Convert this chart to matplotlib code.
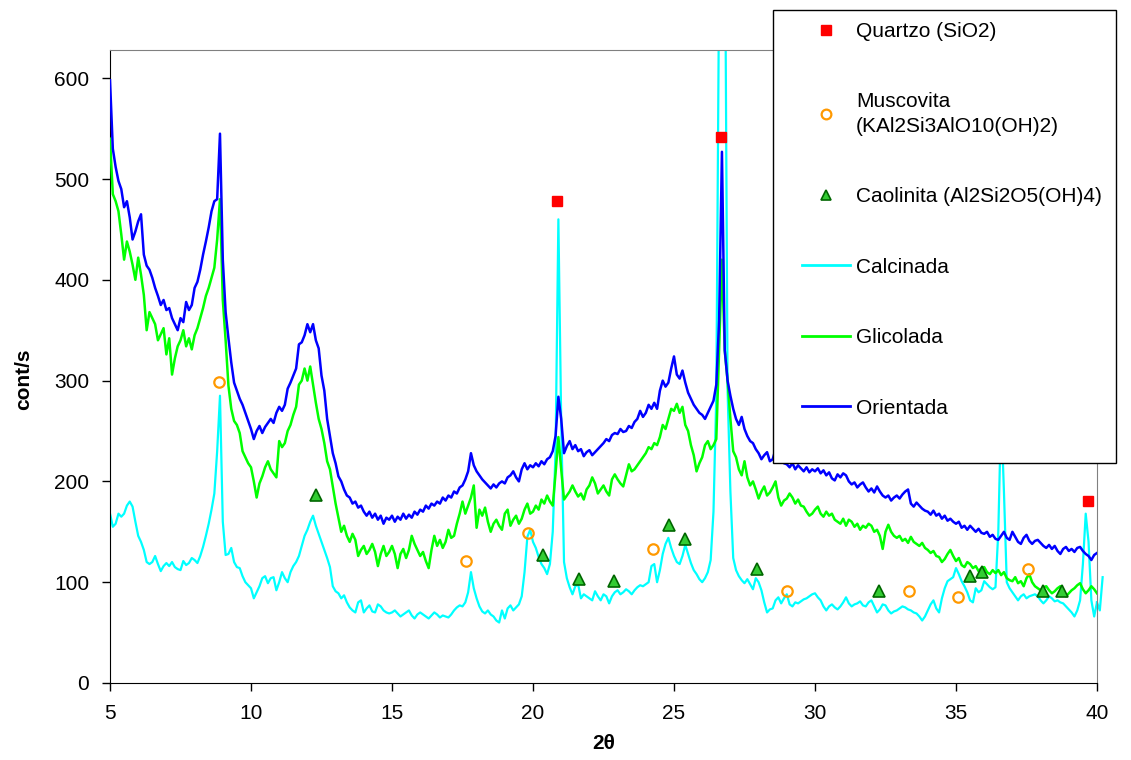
import numpy as np
import matplotlib.pyplot as plt
from matplotlib.lines import Line2D
from matplotlib.patches import Rectangle

plt.rcParams['font.family'] = ['Liberation Sans', 'DejaVu Sans']

# 2-theta grid of the scans (0.1 deg)
two_theta = np.round(np.arange(5.0, 40.05, 0.1), 1)

# Orientada (blue), one row per degree
orientada = [
    598, 530, 512, 498, 490, 472, 478, 462, 440, 448,   # 5
    458, 465, 425, 414, 410, 402, 392, 384, 375, 380,   # 6
    370, 372, 362, 356, 350, 362, 358, 378, 370, 375,   # 7
    392, 398, 410, 425, 438, 452, 468, 478, 480, 545,   # 8
    420, 368, 342, 318, 298, 290, 282, 276, 268, 260,   # 9
    252, 242, 250, 255, 248, 254, 258, 262, 258, 268,   # 10
    274, 270, 276, 292, 298, 305, 312, 336, 338, 345,   # 11
    356, 348, 356, 340, 332, 305, 290, 262, 245, 228,   # 12
    218, 205, 200, 192, 186, 184, 178, 180, 174, 176,   # 13
    170, 166, 170, 164, 168, 162, 166, 158, 164, 162,   # 14
    166, 160, 165, 162, 168, 163, 167, 164, 170, 167,   # 15
    172, 170, 176, 173, 178, 176, 180, 178, 184, 181,   # 16
    186, 184, 190, 188, 194, 196, 202, 210, 228, 216,   # 17
    210, 206, 202, 199, 196, 193, 197, 194, 198, 200,   # 18
    198, 204, 206, 210, 204, 200, 212, 218, 212, 216,   # 19
    214, 218, 215, 220, 217, 222, 224, 230, 245, 284,   # 20
    262, 228, 235, 240, 232, 236, 230, 232, 225, 229,   # 21
    231, 226, 229, 232, 235, 238, 242, 240, 246, 248,   # 22
    247, 252, 249, 250, 255, 253, 259, 262, 270, 264,   # 23
    268, 276, 272, 278, 272, 290, 300, 294, 298, 312,   # 24
    324, 306, 302, 310, 298, 288, 282, 276, 272, 268,   # 25
    266, 262, 268, 274, 280, 296, 360, 527, 330, 300,   # 26
    285, 272, 262, 256, 264, 252, 245, 240, 238, 232,   # 27
    228, 222, 226, 229, 220, 222, 232, 226, 220, 218,   # 28
    217, 214, 218, 212, 216, 213, 210, 214, 209, 212,   # 29
    210, 213, 208, 211, 206, 209, 203, 201, 207, 204,   # 30
    208, 206, 200, 197, 199, 194, 197, 199, 194, 190,   # 31
    193, 189, 195, 190, 186, 184, 186, 181, 184, 186,   # 32
    183, 187, 190, 192, 178, 175, 179, 176, 173, 171,   # 33
    170, 167, 171, 166, 168, 163, 166, 161, 163, 160,   # 34
    158, 160, 154, 156, 152, 156, 153, 150, 153, 149,   # 35
    148, 150, 145, 147, 143, 142, 146, 150, 144, 142,   # 36
    150, 145, 140, 138, 144, 147, 141, 138, 141, 142,   # 37
    139, 136, 134, 137, 133, 136, 131, 128, 133, 135,   # 38
    131, 133, 130, 134, 135, 131, 128, 126, 122, 127,   # 39
    129,                                                # 40
]

# Glicolada (green)
glicolada = [
    540, 485, 478, 468, 445, 420, 438, 428, 415, 400,   # 5
    422, 405, 385, 350, 368, 362, 356, 340, 346, 352,   # 6
    326, 342, 306, 322, 334, 340, 350, 334, 342, 331,   # 7
    345, 352, 362, 372, 384, 392, 402, 412, 440, 480,   # 8
    380, 340, 295, 272, 260, 256, 248, 230, 224, 218,   # 9
    214, 200, 184, 198, 205, 214, 220, 212, 208, 204,   # 10
    240, 234, 238, 250, 256, 266, 274, 296, 300, 312,   # 11
    300, 314, 296, 278, 262, 252, 238, 220, 212, 195,   # 12
    178, 164, 150, 156, 146, 140, 148, 142, 126, 132,   # 13
    136, 128, 132, 138, 130, 116, 128, 136, 126, 130,   # 14
    136, 128, 114, 128, 133, 124, 132, 146, 138, 132,   # 15
    126, 130, 121, 114, 132, 146, 136, 142, 134, 140,   # 16
    152, 144, 146, 158, 168, 180, 168, 176, 184, 196,   # 17
    154, 172, 166, 174, 160, 150, 158, 162, 156, 152,   # 18
    168, 172, 156, 162, 166, 158, 163, 172, 178, 168,   # 19
    170, 176, 172, 182, 178, 186, 180, 176, 208, 244,   # 20
    212, 182, 186, 190, 196, 190, 185, 188, 182, 192,   # 21
    196, 204, 198, 188, 192, 196, 190, 186, 202, 207,   # 22
    202, 198, 195, 206, 217, 210, 212, 216, 220, 224,   # 23
    228, 234, 232, 238, 236, 244, 256, 252, 262, 272,   # 24
    270, 277, 268, 274, 256, 250, 236, 226, 210, 218,   # 25
    224, 236, 240, 232, 236, 242, 330, 420, 330, 300,   # 26
    262, 230, 224, 212, 206, 220, 204, 196, 200, 192,   # 27
    183, 190, 195, 186, 189, 194, 200, 184, 176, 181,   # 28
    183, 188, 184, 178, 182, 176, 175, 170, 166, 168,   # 29
    172, 175, 168, 165, 170, 166, 168, 162, 160, 158,   # 30
    163, 156, 162, 160, 155, 158, 152, 156, 154, 158,   # 31
    156, 150, 152, 146, 133, 150, 157, 150, 146, 144,   # 32
    146, 141, 143, 139, 145, 140, 138, 136, 139, 134,   # 33
    132, 129, 131, 126, 125, 120, 123, 128, 132, 126,   # 34
    121, 124, 117, 115, 120, 118, 114, 116, 111, 114,   # 35
    115, 110, 108, 112, 109, 112, 107, 110, 104, 102,   # 36
    101, 105, 99, 101, 96, 104, 108, 100, 96, 94,       # 37
    92, 95, 96, 92, 89, 91, 94, 96, 90, 86,             # 38
    89, 92, 94, 97, 99, 93, 89, 92, 96, 93,             # 39
    89,                                                 # 40
]

# Calcinada (cyan), same grid plus a short tail past 40
calcinada = [
    168, 155, 158, 168, 165, 168, 176, 180, 175, 160,   # 5
    146, 140, 132, 120, 118, 120, 126, 118, 111, 116,   # 6
    119, 116, 120, 115, 113, 112, 121, 117, 119, 124,   # 7
    122, 119, 126, 135, 146, 158, 172, 188, 230, 285,   # 8
    160, 127, 128, 134, 120, 115, 114, 106, 100, 97,    # 9
    94, 84, 90, 96, 104, 106, 99, 104, 105, 92,         # 10
    100, 110, 104, 100, 110, 116, 120, 126, 136, 146,   # 11
    152, 160, 166, 156, 148, 140, 132, 124, 115, 96,    # 12
    91, 89, 84, 87, 80, 75, 72, 70, 80, 82,             # 13
    70, 74, 77, 71, 70, 78, 76, 72, 70, 69,             # 14
    70, 72, 69, 66, 68, 70, 72, 67, 64, 68,             # 15
    70, 68, 66, 64, 67, 70, 68, 65, 67, 66,             # 16
    65, 68, 72, 75, 77, 76, 80, 90, 110, 94,            # 17
    84, 76, 71, 69, 72, 68, 66, 62, 60, 72,             # 18
    64, 74, 77, 72, 75, 78, 86, 110, 145, 152,          # 19
    140, 134, 125, 118, 114, 108, 118, 150, 230, 460,   # 20
    260, 120, 104, 95, 88, 96, 98, 84, 88, 86,          # 21
    84, 82, 91, 86, 82, 88, 86, 79, 86, 90,             # 22
    92, 88, 90, 93, 91, 88, 92, 95, 97, 96,             # 23
    98, 100, 116, 118, 100, 112, 128, 138, 144, 134,    # 24
    126, 120, 118, 126, 137, 128, 119, 112, 108, 103,   # 25
    100, 104, 110, 122, 170, 285, 700, 1200, 800, 290,  # 26
    190, 124, 112, 106, 102, 99, 103, 98, 93, 104,      # 27
    100, 92, 80, 70, 73, 74, 82, 85, 79, 84,            # 28
    88, 78, 76, 80, 79, 81, 83, 84, 86, 88,             # 29
    89, 85, 82, 76, 72, 76, 78, 75, 73, 76,             # 30
    80, 85, 79, 76, 78, 79, 81, 77, 76, 80,             # 31
    82, 76, 70, 73, 78, 77, 72, 69, 71, 72,             # 32
    74, 76, 75, 73, 72, 70, 69, 66, 62, 66,             # 33
    72, 78, 82, 74, 70, 84, 94, 101, 103, 105,          # 34
    114, 108, 101, 96, 90, 82, 80, 94, 90, 92,          # 35
    101, 98, 95, 93, 95, 150, 270, 190, 100, 94,        # 36
    90, 86, 82, 86, 88, 84, 86, 87, 88, 86,             # 37
    82, 79, 82, 86, 84, 81, 82, 80, 79, 76,             # 38
    73, 70, 66, 72, 82, 118, 168, 140, 82, 66,          # 39
    80,                                                 # 40
]
tail_theta = [40.0, 40.1, 40.2]
tail_calcinada = [80, 72, 105]

# phase markers
quartzo_x = [20.84, 26.67, 39.69]
quartzo_y = [478, 542, 181]
muscovita_x = [8.86, 17.63, 19.83, 24.25, 29.02, 33.35, 35.07, 37.56]
muscovita_y = [299, 121, 149, 133, 91, 91, 85, 113]
caolinita_x = [12.29, 20.34, 21.63, 22.89, 24.81, 25.40, 27.96, 32.28, 35.51, 35.92, 38.07, 38.77]
caolinita_y = [187, 127, 103, 101, 157, 143, 113, 91, 106, 110, 91, 91]

fig = plt.figure(figsize=(11.31, 7.6), dpi=100)
ax = fig.add_axes([110 / 1131, 77 / 760, 987 / 1131, 633 / 760])

ax.plot(two_theta, calcinada, color='#00FFFF', lw=1.6, zorder=2)
ax.plot(tail_theta, tail_calcinada, color='#00FFFF', lw=1.6, zorder=2, clip_on=False)
ax.plot(two_theta, glicolada, color='#00FF00', lw=1.8, zorder=3)
ax.plot(two_theta, orientada, color='#0000FF', lw=1.8, zorder=4)

ax.plot(quartzo_x, quartzo_y, ls='none', marker='s', ms=7.5, mfc='#FF0000', mec='#FF0000', zorder=6)
ax.plot(muscovita_x, muscovita_y, ls='none', marker='o', ms=7.5, mfc='none', mec='#FF9900', mew=1.6, zorder=6)
ax.plot(caolinita_x, caolinita_y, ls='none', marker='^', ms=8, mfc='#33CC33', mec='#006600', mew=1.2, zorder=6)

ax.set_xlim(5, 40)
ax.set_ylim(0, 628)
ax.set_xticks([5, 10, 15, 20, 25, 30, 35, 40])
ax.set_yticks([0, 100, 200, 300, 400, 500, 600])
ax.tick_params(direction='out', length=6, width=1, labelsize=15, pad=9)
ax.tick_params(axis='y', pad=9)

for side in ['top', 'right']:
    ax.spines[side].set_color('#808080')
for side in ['left', 'bottom']:
    ax.spines[side].set_color('black')

ax.set_xlabel('2θ', fontsize=15, fontweight='bold')
ax.set_ylabel('cont/s', fontsize=15, fontweight='bold')
ax.xaxis.set_label_coords(0.5, -0.08)
ax.yaxis.set_label_coords(-0.078, 0.48)

# legend frame (sticks out above the plot area)
frame = Rectangle((773 / 1131, 1 - 463 / 760), 343 / 1131, 453 / 760,
                  transform=fig.transFigure, facecolor='white',
                  edgecolor='black', lw=1, zorder=8)
fig.add_artist(frame)

handles = [
    Line2D([], [], ls='none', marker='s', ms=7, mfc='#FF0000', mec='#FF0000'),
    Line2D([], [], ls='none', marker='o', ms=7, mfc='none', mec='#FF9900', mew=1.6),
    Line2D([], [], ls='none', marker='^', ms=7, mfc='#33CC33', mec='#006600', mew=1.2),
    Line2D([], [], color='#00FFFF', lw=2),
    Line2D([], [], color='#00FF00', lw=2),
    Line2D([], [], color='#0000FF', lw=2),
]
labels = ['Quartzo (SiO2)', 'Muscovita\n(KAl2Si3AlO10(OH)2)', 'Caolinita (Al2Si2O5(OH)4)',
          'Calcinada', 'Glicolada', 'Orientada']
leg = fig.legend(handles, labels, loc='upper left', bbox_to_anchor=(802 / 1131, 1 - 22 / 760),
                 frameon=False, fontsize=15, handlelength=2.3, handletextpad=0.3,
                 labelspacing=2.47, borderpad=0, borderaxespad=0)
leg.get_texts()[1].set_linespacing(1.35)
leg.set_zorder(9)

fig.savefig('out.png', dpi=100)
